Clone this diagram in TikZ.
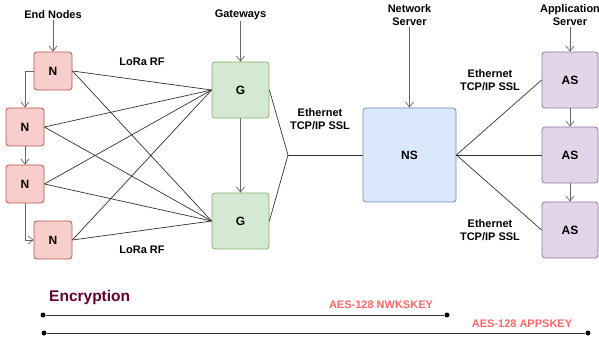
\documentclass[tikz,border=0pt]{standalone}
\usepackage{fontspec}
\setmainfont{Liberation Sans}
\usepackage{tikz}
\usetikzlibrary{positioning,calc,arrows.meta}

\definecolor{nodefill}{HTML}{F8CECC}
\definecolor{nodeline}{HTML}{B85450}
\definecolor{gwfill}{HTML}{D5E8D4}
\definecolor{gwline}{HTML}{82B366}
\definecolor{nsfill}{HTML}{DAE8FC}
\definecolor{nsline}{HTML}{6C8EBF}
\definecolor{asfill}{HTML}{E1D5E7}
\definecolor{asline}{HTML}{9673A6}
\definecolor{encred}{HTML}{660033}
\definecolor{keyred}{HTML}{FF6666}

\begin{document}
\begin{tikzpicture}[x=1pt,y=-1pt,
    font=\fontsize{11}{13}\selectfont\bfseries,
    box/.style={rectangle,rounded corners=3pt,line width=0.8pt,inner sep=0pt,
      font=\fontsize{12}{14}\selectfont\bfseries},
    endnode/.style={box,draw=nodeline,fill=nodefill,minimum size=38pt},
    gateway/.style={box,draw=gwline,fill=gwfill,minimum width=57pt,minimum height=56pt},
    netserver/.style={box,draw=nsline,fill=nsfill,minimum width=93pt,minimum height=94pt},
    appserver/.style={box,draw=asline,fill=asfill,minimum size=56pt},
    caption/.style={align=center,inner sep=1pt},
    link/.style={draw=black!80,line width=0.7pt},
    arr/.style={draw=black!60,line width=0.7pt,-{Straight Barb[length=5pt,width=8pt]}},
    keydot/.style={circle,fill=black,inner sep=0pt,minimum size=5pt}]
  \useasboundingbox (0,0) rectangle (599,347);

  % End nodes, the second and third one are shifted to the left
  \node[endnode] (n1) at (53,71) {N};
  \node[endnode] (n2) at (25,127) {N};
  \node[endnode] (n3) at (25,184) {N};
  \node[endnode] (n4) at (53,240) {N};

  % Gateways, network server and application servers
  \node[gateway] (g1) at (240.5,90) {G};
  \node[gateway] (g2) at (240.5,221) {G};
  \node[netserver] (ns) at (409.5,155) {NS};
  \node[appserver] (as1) at (570,80) {AS};
  \node[appserver] (as2) at (570,155) {AS};
  \node[appserver] (as3) at (570,230) {AS};

  % Titles over each column
  \node[caption] (endlbl) at (53,15) {End Nodes};
  \node[caption] (gwlbl) at (240.5,15) {Gateways};
  \node[caption] (nslbl) at (409.5,15) {Network\\Server};
  \node[caption] (aslbl) at (570,15) {Application\\Server};
  \draw[arr] (endlbl) -- (n1);
  \draw[arr] (gwlbl) -- (g1);
  \draw[arr] (nslbl) -- (ns);
  \draw[arr] (aslbl) -- (as1);

  % Chain of arrows inside each column
  \draw[arr] (n1.west) -| (n2.north);
  \draw[arr] (n2) -- (n3);
  \draw[arr] (n3.south) |- (n4.west);
  \draw[arr] (g1) -- (g2);
  \draw[arr] (as1) -- (as2);
  \draw[arr] (as2) -- (as3);

  % Radio links: every end node reaches both gateways
  \foreach \n in {n1,n2,n3,n4}
    \foreach \g in {g1,g2}
      \draw[link] (\n.east) -- (\g.west);
  \node[caption] (rf1) at (142,62) {LoRa RF};
  \node[caption] (rf2) at (142,250) {LoRa RF};

  % Backhaul from the gateways to the network server
  \coordinate (join) at (288,155);
  \draw[link] (g1.east) -- (join);
  \draw[link] (g2.east) -- (join);
  \draw[link] (join) -- (ns.west);
  \node[caption] (eth1) at (320,119) {Ethernet\\TCP/IP SSL};

  % Network server to the application servers
  \foreach \a in {as1,as2,as3}
    \draw[link] (ns.east) -- (\a.west);
  \node[caption] (eth2) at (490,80) {Ethernet\\TCP/IP SSL};
  \node[caption] (eth3) at (490,230) {Ethernet\\TCP/IP SSL};

  % Encryption spans
  \node[anchor=west,inner sep=0pt,text=encred,font=\fontsize{15.5}{18}\selectfont\bfseries]
    (enc) at (49,297) {Encryption};
  \node[keydot] (nwka) at (43,315) {};
  \node[keydot] (nwkb) at (447,315) {};
  \node[keydot] (appa) at (44,333) {};
  \node[keydot] (appb) at (588,333) {};
  \draw[link] (nwka) -- (nwkb);
  \draw[link] (appa) -- (appb);
  \node[inner sep=0pt,text=keyred] (nwk) at (381,305) {AES-128 NWKSKEY};
  \node[inner sep=0pt,text=keyred] (app) at (522,324) {AES-128 APPSKEY};
\end{tikzpicture}
\end{document}
